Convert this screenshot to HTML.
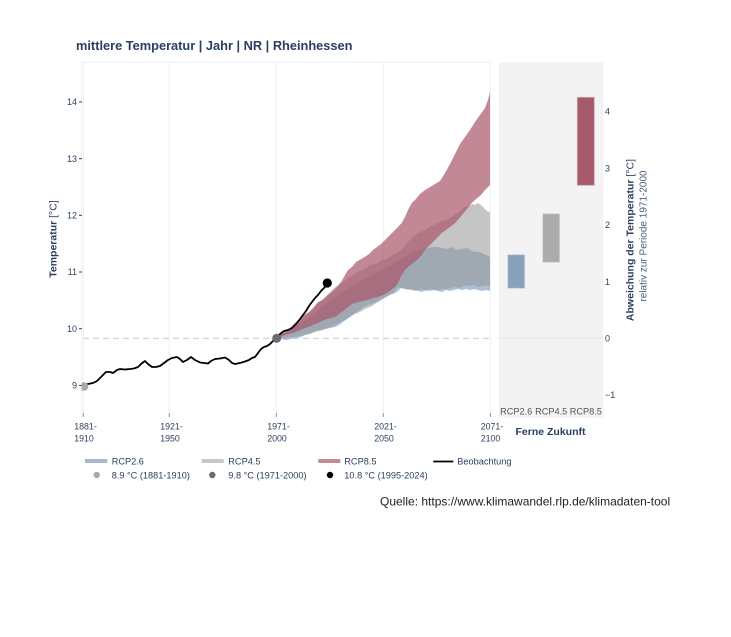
<!DOCTYPE html>
<html><head><meta charset="utf-8"><style>
html,body{margin:0;padding:0;background:#fff;}
svg{display:block;font-family:"Liberation Sans",Arial,sans-serif;}
</style></head><body>
<svg width="731" height="637" viewBox="0 0 731 637" xmlns="http://www.w3.org/2000/svg">
<defs><clipPath id="pc"><rect x="81.7" y="62" width="410" height="356"/></clipPath></defs>
<rect width="731" height="637" fill="#fff"/>
<text x="76" y="50" font-size="12.8" font-weight="bold" fill="#2a3f5f">mittlere Temperatur | Jahr | NR | Rheinhessen</text>

<!-- main plot frame & grid -->
<g stroke="#ebf0f8" stroke-width="1" fill="none">
<line x1="81.7" y1="62.3" x2="491" y2="62.3"/>
<line x1="81.7" y1="62" x2="81.7" y2="417"/>
<line x1="83.3" y1="62" x2="83.3" y2="417"/>
<line x1="169.3" y1="62" x2="169.3" y2="417"/>
<line x1="276.3" y1="62" x2="276.3" y2="417"/>
<line x1="383.3" y1="62" x2="383.3" y2="417"/>
<line x1="490.3" y1="62" x2="490.3" y2="417"/>
</g>

<!-- y ticks -->
<g font-size="9" fill="#2a3f5f" text-anchor="end">
<text x="77" y="105.2">14</text>
<text x="77" y="161.9">13</text>
<text x="77" y="218.5">12</text>
<text x="77" y="275.2">11</text>
<text x="77" y="331.9">10</text>
<text x="77" y="388.6">9</text>
</g>
<g stroke="#2a3f5f" stroke-width="1">
<line x1="79" y1="102" x2="82" y2="102"/>
<line x1="79" y1="158.7" x2="82" y2="158.7"/>
<line x1="79" y1="215.3" x2="82" y2="215.3"/>
<line x1="79" y1="272" x2="82" y2="272"/>
<line x1="79" y1="328.7" x2="82" y2="328.7"/>
<line x1="79" y1="385.4" x2="82" y2="385.4"/>
</g>
<g stroke="#8a97aa" stroke-width="1">
<line x1="83.3" y1="413" x2="83.3" y2="417"/>
<line x1="169.3" y1="413" x2="169.3" y2="417"/>
<line x1="276.3" y1="413" x2="276.3" y2="417"/>
<line x1="383.3" y1="413" x2="383.3" y2="417"/>
<line x1="490.3" y1="413" x2="490.3" y2="417"/>
</g>
<!-- x tick labels -->
<g font-size="8.8" fill="#2a3f5f" text-anchor="middle">
<text x="85.5" y="429.3">1881-</text><text x="84" y="441.3">1910</text>
<text x="171.5" y="429.3">1921-</text><text x="170" y="441.3">1950</text>
<text x="278.5" y="429.3">1971-</text><text x="277" y="441.3">2000</text>
<text x="385.5" y="429.3">2021-</text><text x="384" y="441.3">2050</text>
<text x="492" y="429.3">2071-</text><text x="490.5" y="441.3">2100</text>
</g>

<!-- y axis title -->
<text transform="translate(56.5,239) rotate(-90)" font-size="10.5" fill="#2a3f5f" text-anchor="middle"><tspan font-weight="bold">Temperatur</tspan> [°C]</text>

<!-- dashed reference -->
<line x1="83" y1="338.3" x2="490" y2="338.3" stroke="#cfcfcf" stroke-width="1.2" stroke-dasharray="6,4"/>

<g clip-path="url(#pc)">
<!-- RCP2.6 band -->
<polygon fill="rgba(122,152,188,0.62)" points="276.7,337 282,333 288,330 294,327 301,323 308,318 314,313 320,308 327,303 335,297 342,292 349,288 355,284 361,281 368,277 375,274 382,270 390,266 396,262 402,258 408,255 413,252 418,250 423,249 428,248 433,247 438,247 442,248 447,249 452,247 457,250 462,249 467,248 472,251 476,252 480,252 484,254 488,256 490,257 490,291 486,290 482,291 478,290 474,289 470,290 466,289 462,290 458,289 454,290 450,291 446,290 442,292 438,291 434,290 430,291 426,290 422,292 418,291 414,290 410,289 406,289 401,288 397,292 393,294 389,295 385,297 380,300 376,302 372,304 368,305 364,307 360,310 355,313 351,316 347,319 343,322 339,325 335,327 330,328 326,329 322,330 318,330 313,332 309,334 305,335 301,337 296,338 291,339 286,340 281,339 276.7,338"/>
<!-- RCP4.5 band -->
<polygon fill="rgba(150,150,150,0.55)" points="276.7,337 281,334 285,332 290,328 294,326 298,322 301.7,320 305,316 309,313 313,309 318,303 322,300 326,296 330,292 335,287 339,285 344,281 348,278 352,276 357,272 361.7,270 366,268 370,265 374,264 378,263 382,260 386,259 390,257 394,254 398,252 401.7,250 405,245 410,240 414,236 418,233 423,231 428,228 433,225 438,223 442,221 446,220 451.7,217 455,214 458,213 462,209 465,207 469,206 472,204 475,205 478,203 481,205 484,208 487,211 490,212 490,287 486,285 482,286 478,287 474,285 470,286 466,285 462,287 458,288 454,286 451.7,288 446,289 442,289 438,290 434,290 430,289 426,291 422,289 418,290 414,291 411.7,290 408,290 405,289 401,288 398,287 394,292 390,295 385,298 380,301 375,304 370,307 365,309 360,312 355,314 350,317 345,320 340,322 335,325 330,327 325,329 320,331 315,332 310,334 305,335 300,336 294,337 288,337 282,338 276.7,338"/>
<!-- RCP8.5 band -->
<polygon fill="rgba(170,85,105,0.7)" points="276.7,337 281,334 285,333 290,328 295,323 300,319 304,315 309,312 314,307 318,302 323,300 328,295 333,291 337,287 341.7,281 345,275 348,270 352,267 356,262 361,259 365,256.7 369,254 373,250 377,247 381,244 385,240 389,236 393,232 397,228 401.7,223 405,217 408,210 411.7,203 415,200 420,194 425,190 430,187 435,184 440,181 445,173 450,164 455,154 460,144 465,137 470,130 475,122 480,115 485,108 488,100 490,92 490,185 485,190 481,195 476,199 471.7,203 467,209 462,215 458,220 454,224 450,227 446,230 441.7,233 437,238 433,242 429,246 425,250 421,256 417,260 413,263 409,266 405,270 401,276 398,283 395,287 391,290 387,293 383,295 378,297 373,298 368,300 363,301 358,302 351.7,304 347,308 343,311 339,314 335,317 331,318 327,319 322,321 318,323 313,325 308,327 303,329 298,331 293,333 288,334 283,336 276.7,338"/>
<!-- observation -->
<polyline fill="none" stroke="#000" stroke-width="1.8" stroke-linejoin="round" points="83.3,385 88,384 93,383 97,381 100,378 103,375 106,372 110,372 113,373 117,370 120,369 125,369.5 130,369 134,368.5 138,367 141,364 145,361 148,364 152,367 156,367 160,366 164,363 168,360 172,358 177,357 180,359 183,362 187,360 191,357 195,360 200,362.5 204,363 208,363.5 211,361 215,359 220,358.5 225,357.5 229,360 232,363 235,364 240,363 245,361.5 249,360 252,358 255,357 258,353 261,349 264,347 267,346 270,344 273,341 276.7,338.3 280,334 284,331 288,330 292,328 296,324 300,319 303,315 306,311 309,306 312,302 315,298 318,295 321,291 324,288 327.3,283"/>
<circle cx="84" cy="386.5" r="4.3" fill="#a9a9a9"/>
</g>
<circle cx="276.7" cy="338.3" r="4.5" fill="#6b6b6b"/>
<circle cx="327.3" cy="283" r="4.6" fill="#000"/>

<!-- right panel -->
<rect x="499" y="62.3" width="104.3" height="355.4" fill="#f3f3f3"/>
<line x1="499" y1="338.3" x2="603.3" y2="338.3" stroke="#dde6f2" stroke-width="1"/>
<rect x="507.7" y="254.7" width="17" height="33.6" fill="#8aa1bb" stroke="#c9d3df" stroke-width="0.8"/>
<rect x="542.7" y="213.7" width="17" height="48.6" fill="#acacac" stroke="#d5d5d5" stroke-width="0.8"/>
<rect x="577.3" y="97.3" width="17" height="88" fill="#a55a6b" stroke="#cfa5ae" stroke-width="0.8"/>
<g font-size="9.2" fill="#555" text-anchor="middle">
<text x="516.2" y="414.3">RCP2.6</text>
<text x="551.2" y="414.3">RCP4.5</text>
<text x="585.8" y="414.3">RCP8.5</text>
</g>
<text x="550.5" y="435" font-size="10.5" font-weight="bold" fill="#2a3f5f" text-anchor="middle">Ferne Zukunft</text>
<g font-size="9" fill="#2a3f5f">
<text x="605" y="114.7">4</text>
<text x="605" y="171.4">3</text>
<text x="605" y="228.1">2</text>
<text x="605" y="284.8">1</text>
<text x="605" y="341.5">0</text>
<text x="605" y="398.2">−1</text>
</g>
<text transform="translate(633.5,240) rotate(-90)" font-size="10.5" fill="#2a3f5f" text-anchor="middle"><tspan font-weight="bold">Abweichung der Temperatur</tspan> [°C]</text>
<text transform="translate(646.5,236) rotate(-90)" font-size="10" fill="#4a5f7f" text-anchor="middle">relativ zur Periode 1971-2000</text>

<!-- legend -->
<rect x="85" y="459" width="22.3" height="4" fill="#a7b9cd"/>
<rect x="201.7" y="459" width="22" height="4" fill="#c8c8c8"/>
<rect x="318.3" y="459" width="22" height="4" fill="#c48b96"/>
<line x1="433.3" y1="461.5" x2="453.3" y2="461.5" stroke="#000" stroke-width="1.8"/>
<g font-size="9.2" fill="#2a3f5f">
<text x="111.7" y="464.3">RCP2.6</text>
<text x="228.3" y="464.3">RCP4.5</text>
<text x="344.3" y="464.3">RCP8.5</text>
<text x="457.3" y="464.3">Beobachtung</text>
<text x="111.7" y="478.3">8.9 °C (1881-1910)</text>
<text x="228.3" y="478.3">9.8 °C (1971-2000)</text>
<text x="344.3" y="478.3">10.8 °C (1995-2024)</text>
</g>
<circle cx="96.7" cy="475" r="3.2" fill="#a9a9a9"/>
<circle cx="212.3" cy="475" r="3.2" fill="#6b6b6b"/>
<circle cx="330" cy="475" r="3.2" fill="#000"/>

<text x="380" y="505.5" font-size="12" fill="#222">Quelle: https://www.klimawandel.rlp.de/klimadaten-tool</text>
</svg>
</body></html>
